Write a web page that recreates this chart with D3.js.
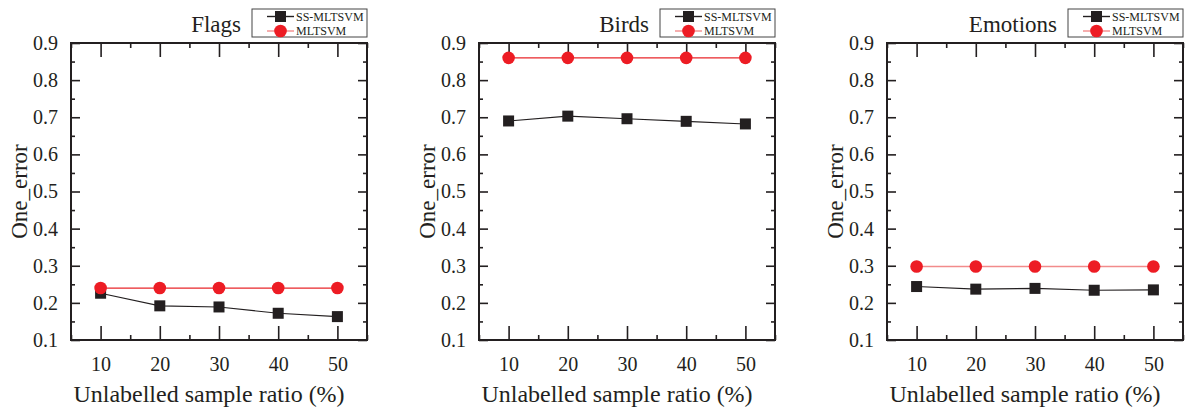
<!DOCTYPE html>
<html>
<head>
<meta charset="utf-8">
<script src="https://cdn.jsdelivr.net/npm/d3@7"></script>
<style>
  body { margin: 0; background: #fff; }
  svg text { font-family: "Liberation Serif", "Times New Roman", "DejaVu Serif", serif; fill: #231f20; }
</style>
</head>
<body>
<div id="chart"></div>
<script>
// data
var ratios = [10, 20, 30, 40, 50];
var datasets = ["Flags", "Birds", "Emotions"];
var ssMltsvm = [
    [0.226, 0.192, 0.189, 0.172, 0.163],
    [0.690, 0.703, 0.696, 0.689, 0.682],
    [0.244, 0.237, 0.239, 0.234, 0.235]
];
var mltsvm = [
    [0.240, 0.240, 0.240, 0.240, 0.240],
    [0.860, 0.860, 0.860, 0.860, 0.860],
    [0.298, 0.298, 0.298, 0.298, 0.298]
];
var yTicks = [0.1, 0.2, 0.3, 0.4, 0.5, 0.6, 0.7, 0.8, 0.9];
var seriesNames = ["SS-MLTSVM", "MLTSVM"];

var width = 1186, height = 411;
var panelLeft = [71, 479, 887];
var panelWidth = 296;
var plotTop = 43, plotBottom = 340;
var redLine = ["#e8262a", "#e8262a", "#f28b8b"];
var serif = '"Liberation Serif", "Times New Roman", "DejaVu Serif", serif';

var svg = d3.select("#chart").append("svg")
    .attr("width", width)
    .attr("height", height)
    .attr("font-family", serif);

function drawPanel(p) {
    var x0 = panelLeft[p];
    var x = d3.scaleLinear().domain([5, 55]).range([x0, x0 + panelWidth]);
    var y = d3.scaleLinear().domain([0.1, 0.9]).range([plotBottom, plotTop]);
    var g = svg.append("g");

    var minorX = d3.range(5, 56, 5).filter(v => ratios.indexOf(v) == -1);
    var minorY = d3.range(0.15, 0.9, 0.1);

    // bottom axis: labels + inward ticks
    var xb = g.append("g").attr("transform", "translate(0," + plotBottom + ")")
        .call(d3.axisBottom(x).tickValues(ratios).tickSizeInner(-14).tickSizeOuter(0).tickPadding(17));
    xb.attr("font-family", serif).attr("font-size", 20);
    g.append("g").attr("transform", "translate(0," + plotBottom + ")")
        .call(d3.axisBottom(x).tickValues(minorX).tickSize(-5).tickFormat(""));
    // top axis ticks
    g.append("g").attr("transform", "translate(0," + plotTop + ")")
        .call(d3.axisTop(x).tickValues(ratios).tickSize(-14).tickFormat(""));
    g.append("g").attr("transform", "translate(0," + plotTop + ")")
        .call(d3.axisTop(x).tickValues(minorX).tickSize(-5).tickFormat(""));
    // left axis
    var yl = g.append("g").attr("transform", "translate(" + x0 + ",0)")
        .call(d3.axisLeft(y).tickValues(yTicks).tickSize(-9).tickPadding(13).tickFormat(d3.format(".1f")));
    yl.attr("font-family", serif).attr("font-size", 20);
    g.append("g").attr("transform", "translate(" + x0 + ",0)")
        .call(d3.axisLeft(y).tickValues(minorY).tickSize(-4).tickFormat(""));
    // right axis
    g.append("g").attr("transform", "translate(" + (x0 + panelWidth) + ",0)")
        .call(d3.axisRight(y).tickValues(yTicks).tickSize(-9).tickFormat(""));
    g.append("g").attr("transform", "translate(" + (x0 + panelWidth) + ",0)")
        .call(d3.axisRight(y).tickValues(minorY).tickSize(-4).tickFormat(""));

    g.selectAll(".domain").remove();
    g.selectAll(".tick line").attr("stroke", "#231f20").attr("stroke-width", 1.6);
    g.selectAll(".tick text").attr("fill", "#231f20");

    g.append("rect")
        .attr("x", x0).attr("y", plotTop)
        .attr("width", panelWidth).attr("height", plotBottom - plotTop)
        .attr("fill", "none").attr("stroke", "#231f20").attr("stroke-width", 2);

    var line = d3.line().x((d, i) => x(ratios[i])).y(d => y(d));

    g.append("path").datum(mltsvm[p])
        .attr("d", line).attr("fill", "none")
        .attr("stroke", redLine[p]).attr("stroke-width", 1.3);
    g.append("path").datum(ssMltsvm[p])
        .attr("d", line).attr("fill", "none")
        .attr("stroke", "#231f20").attr("stroke-width", 1.1);

    g.selectAll(".sq").data(ssMltsvm[p]).enter().append("rect")
        .attr("x", (d, i) => x(ratios[i]) - 5.5)
        .attr("y", d => y(d) - 5.5)
        .attr("width", 11).attr("height", 11)
        .attr("fill", "#231f20");
    g.selectAll(".ci").data(mltsvm[p]).enter().append("circle")
        .attr("cx", (d, i) => x(ratios[i]))
        .attr("cy", d => y(d))
        .attr("r", 6.3)
        .attr("fill", "#ed1c24");

    // axis titles
    g.append("text")
        .attr("transform", "translate(" + (x0 - 44) + "," + ((plotTop + plotBottom) / 2) + ") rotate(-90)")
        .attr("text-anchor", "middle")
        .style("font-size", "23px")
        .text("One_error");
    g.append("text")
        .attr("x", x0 + panelWidth / 2 - 10).attr("y", 402)
        .attr("text-anchor", "middle")
        .style("font-size", "24px")
        .text("Unlabelled sample ratio (%)");

    // legend
    var lx = x0 + panelWidth - 115, ly = 9;
    g.append("rect")
        .attr("x", lx).attr("y", ly).attr("width", 115).attr("height", 28)
        .attr("fill", "#fff").attr("stroke", "#444").attr("stroke-width", 1);
    var legendRows = [
        { color: "#231f20", line: "#231f20", shape: "square" },
        { color: "#ed1c24", line: "#f28b8b", shape: "circle" }
    ];
    legendRows.forEach(function (row, i) {
        var cy = ly + 7.5 + i * 14.5;
        g.append("line")
            .attr("x1", lx + 15).attr("x2", lx + 42)
            .attr("y1", cy).attr("y2", cy)
            .attr("stroke", row.line).attr("stroke-width", 1.4);
        if (row.shape == "square") {
            g.append("rect")
                .attr("x", lx + 28.5 - 5.5).attr("y", cy - 5.5)
                .attr("width", 11).attr("height", 11).attr("fill", row.color);
        } else {
            g.append("circle")
                .attr("cx", lx + 28.5).attr("cy", cy).attr("r", 6.3).attr("fill", row.color);
        }
        g.append("text")
            .attr("x", lx + 44).attr("y", cy + 4)
            .style("font-size", "12px")
            .text(seriesNames[i]);
    });

    // panel title
    g.append("text")
        .attr("x", lx - 11).attr("y", 32)
        .attr("text-anchor", "end")
        .style("font-size", "23px")
        .text(datasets[p]);
}

for (var p = 0; p < datasets.length; p++) {
    drawPanel(p);
}
</script>
</body>
</html>
